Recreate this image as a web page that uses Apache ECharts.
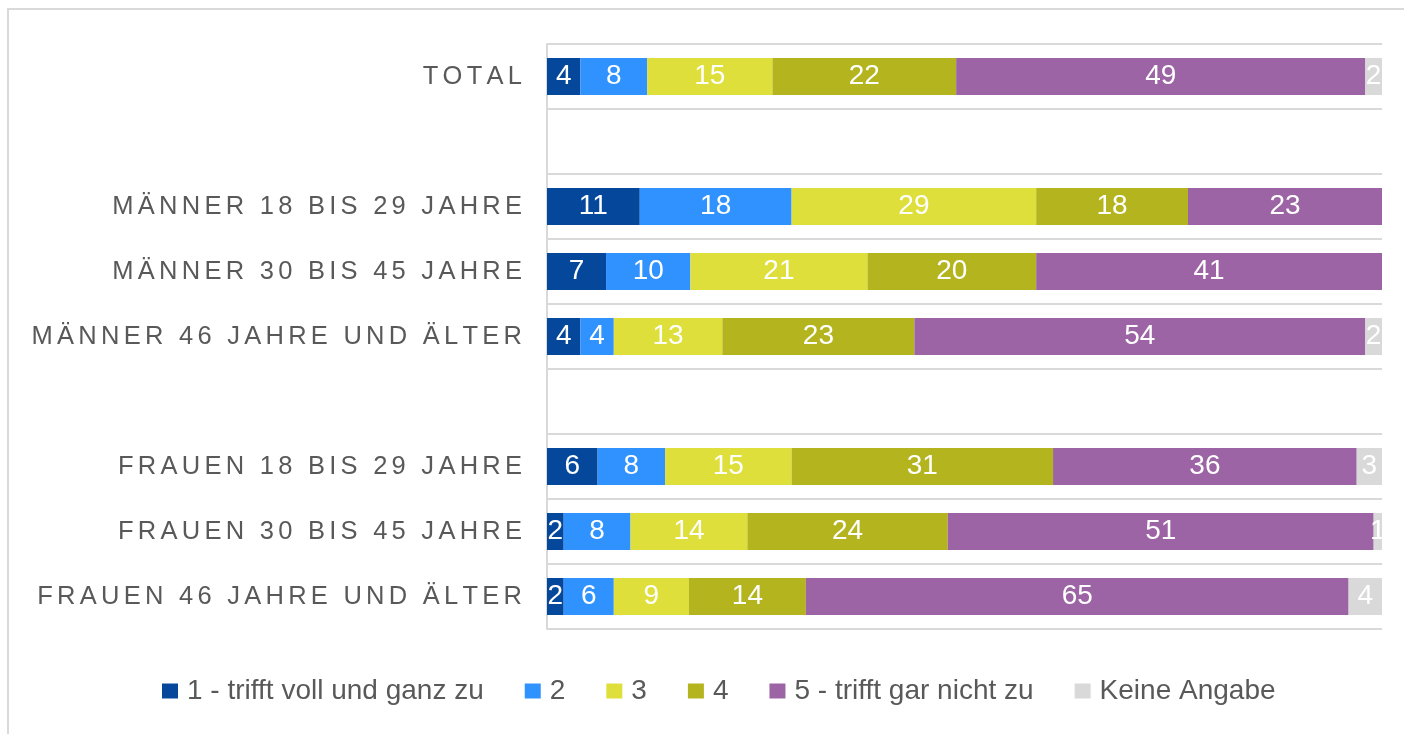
<!DOCTYPE html>
<html>
<head>
<meta charset="utf-8">
<script src="https://cdn.jsdelivr.net/npm/echarts@6/dist/echarts.min.js"></script>
<style>
  html, body { margin: 0; padding: 0; background: #fff; }
  #chart { width: 1404px; height: 734px; }
</style>
</head>
<body>
<div id="chart"></div>
<script>
const categories = [
    'TOTAL', ' ',
    'MÄNNER 18 BIS 29 JAHRE', 'MÄNNER 30 BIS 45 JAHRE', 'MÄNNER 46 JAHRE UND ÄLTER', '  ',
    'FRAUEN 18 BIS 29 JAHRE', 'FRAUEN 30 BIS 45 JAHRE', 'FRAUEN 46 JAHRE UND ÄLTER',
];
const seriesNames = ['1 - trifft voll und ganz zu', '2', '3', '4', '5 - trifft gar nicht zu', 'Keine Angabe'];

const answer1 = [4, null, 11, 7, 4, null, 6, 2, 2];
const answer2 = [8, null, 18, 10, 4, null, 8, 8, 6];
const answer3 = [15, null, 29, 21, 13, null, 15, 14, 9];
const answer4 = [22, null, 18, 20, 23, null, 31, 24, 14];
const answer5 = [49, null, 23, 41, 54, null, 36, 51, 65];
const keineAngabe = [2, null, 0, 0, 2, null, 3, 1, 4];

const COLORS = ['#05489b', '#2f92fe', '#dfdf3b', '#b4b41e', '#9c63a5', '#d9d9d9'];
const FONT = '"Liberation Sans", Arial, sans-serif';

const allValues = [answer1, answer2, answer3, answer4, answer5, keineAngabe];

// bars are drawn as share of each row's total (rows don't always add up to 100)
const rowTotals = categories.map((c, i) => allValues.reduce((s, arr) => s + (arr[i] || 0), 0));

// fake letter spacing for the axis labels (two hair spaces between chars)
function spaced(text) {
    return Array.from(text).join('\u200A\u200A');
}

const chart = echarts.init(document.getElementById('chart'));

chart.setOption({
    animation: false,
    color: COLORS,
    graphic: [{
        type: 'rect',
        shape: { x: 8, y: 9, width: 1440, height: 800 },
        style: { fill: 'none', stroke: '#d9d9d9', lineWidth: 2 },
        silent: true,
    }],
    grid: { left: 547, right: 22, top: 44, bottom: 105 },
    legend: {
        data: seriesNames,
        left: 157,
        top: 672,
        icon: 'rect',
        itemWidth: 16,
        itemHeight: 15,
        itemGap: 41,
        textStyle: { fontFamily: FONT, fontSize: 28, color: '#595959', padding: [0, 0, 0, 4] },
    },
    xAxis: {
        type: 'value',
        min: 0,
        max: 100,
        show: false,
    },
    yAxis: {
        type: 'category',
        data: categories,
        inverse: true,
        axisLine: { show: true, lineStyle: { color: '#d9d9d9', width: 2 } },
        axisTick: { show: false },
        splitLine: { show: true, lineStyle: { color: '#d9d9d9', width: 2 } },
        axisLabel: {
            margin: 25,
            fontFamily: FONT,
            fontSize: 25.5,
            color: '#595959',
            formatter: (v) => spaced(v.trim()),
        },
    },
    series: allValues.map((arr, k) => ({
        name: seriesNames[k],
        type: 'bar',
        stack: 'all',
        barCategoryGap: '43%',
        data: arr.map((v, i) => (v == null ? null : { value: v / rowTotals[i] * 100, raw: v })),
        label: {
            show: true,
            position: 'inside',
            color: '#fff',
            fontFamily: FONT,
            fontSize: 28,
            formatter: (p) => (p.data && p.data.raw ? String(p.data.raw) : ''),
        },
    })),
});
</script>
</body>
</html>
